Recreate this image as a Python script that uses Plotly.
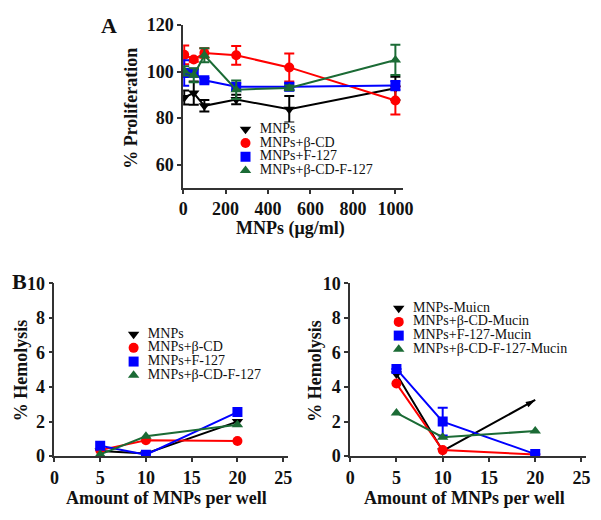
import plotly.graph_objects as go

W, H = 601, 520
FONT = "Liberation Serif"

# ---------------- data ----------------
conc_A = [5, 50, 100, 250, 500, 1000]
names_A = ["MNPs", "MNPs+β-CD", "MNPs+F-127", "MNPs+β-CD-F-127"]
prolif = {
    "MNPs": [88.9, 90.8, 85.3, 88.0, 83.8, 92.8],
    "MNPs+β-CD": [107.2, 105.2, 108.0, 107.0, 101.8, 87.6],
    "MNPs+F-127": [99.4, 99.5, 96.3, 93.5, 93.5, 94.0],
    "MNPs+β-CD-F-127": [100.3, 98.4, 107.0, 92.2, 93.0, 105.0],
}
prolif_err = {
    "MNPs": [3.0, 5.0, 2.5, 2.0, 5.7, 5.0],
    "MNPs+β-CD": [4.0, 1.0, 2.0, 4.0, 6.0, 6.0],
    "MNPs+F-127": [5.5, 1.5, 1.0, 1.5, 1.5, 2.0],
    "MNPs+β-CD-F-127": [2.0, 3.0, 3.0, 4.0, 1.0, 6.5],
}
ticks_A_x = [0, 200, 400, 600, 800, 1000]
ticks_A_y = [60, 80, 100, 120]

amount_B = [5, 10, 20]
names_B1 = ["MNPs", "MNPs+β-CD", "MNPs+F-127", "MNPs+β-CD-F-127"]
hemo_B1 = {
    "MNPs": [0.30, 0.15, 2.0],
    "MNPs+β-CD": [0.35, 0.92, 0.88],
    "MNPs+F-127": [0.60, 0.08, 2.55],
    "MNPs+β-CD-F-127": [0.10, 1.15, 1.82],
}
names_B2 = ["MNPs-Muicn", "MNPs+β-CD-Mucin", "MNPs+F-127-Mucin", "MNPs+β-CD-F-127-Mucin"]
hemo_B2 = {
    "MNPs-Muicn": [4.75, 0.30, 3.25],
    "MNPs+β-CD-Mucin": [4.20, 0.35, 0.10],
    "MNPs+F-127-Mucin": [5.05, 2.00, 0.12],
    "MNPs+β-CD-F-127-Mucin": [2.50, 1.10, 1.45],
}
hemo_B2_err = {
    "MNPs-Muicn": [0, 0, 0],
    "MNPs+β-CD-Mucin": [0, 0, 0],
    "MNPs+F-127-Mucin": [0, 0.8, 0],
    "MNPs+β-CD-F-127-Mucin": [0, 0, 0],
}
ticks_B_x = [0, 5, 10, 15, 20, 25]
ticks_B_y = [0, 2, 4, 6, 8, 10]

colors = ["#000000", "#ff0000", "#0000ff", "#1b6b35"]
symbols = ["triangle-down", "circle", "square", "triangle-up"]

# ---------------- helpers ----------------
def px_x(p):
    return p / W

def px_y(p):
    return 1 - p / H

def bold(vals):
    return ["<b>%s</b>" % v for v in vals]

fig = go.Figure()

# Panel A
for i, n in enumerate(names_A):
    fig.add_trace(go.Scatter(
        x=conc_A, y=prolif[n], mode="lines+markers", showlegend=False,
        line=dict(color=colors[i], width=2),
        marker=dict(symbol=symbols[i], size=10, color=colors[i]),
        error_y=dict(type="data", array=prolif_err[n], color=colors[i], thickness=2, width=5),
        xaxis="x", yaxis="y"))

# Panel B left
for i, n in enumerate(names_B1):
    fig.add_trace(go.Scatter(
        x=amount_B, y=hemo_B1[n], mode="lines+markers", showlegend=False,
        line=dict(color=colors[i], width=2),
        marker=dict(symbol=symbols[i], size=10, color=colors[i]),
        xaxis="x2", yaxis="y2"))

# Panel B right
for i, n in enumerate(names_B2):
    sym = symbols[i]
    ang = 0
    if i == 0:
        sym = ["triangle-down", "triangle-down", "arrow"]
        ang = [0, 0, 61]
    err = hemo_B2_err[n]
    fig.add_trace(go.Scatter(
        x=amount_B, y=hemo_B2[n], mode="lines+markers", showlegend=False,
        line=dict(color=colors[i], width=2),
        marker=dict(symbol=sym, angle=ang, size=10, color=colors[i]),
        error_y=dict(type="data", array=err, color=colors[i], thickness=2, width=5,
                     visible=any(e > 0 for e in err)),
        xaxis="x3", yaxis="y3"))

# Mini-legend axes (markers + labels)
legends = [
    (names_A, "x4", "y4", (240, 380), (117, 174)),
    (names_B1, "x5", "y5", (124, 290), (330, 387)),
    (names_B2, "x6", "y6", (394, 600), (303, 360)),
]
for names, xa, ya, xr, yr in legends:
    for i, n in enumerate(names):
        fig.add_trace(go.Scatter(
            x=[0], y=[n], mode="markers+text", text=["  " + n],
            textposition="middle right", showlegend=False, hoverinfo="skip",
            textfont=dict(family=FONT, size=14, color="#111"),
            marker=dict(symbol=symbols[i], size=10, color=colors[i]),
            xaxis=xa, yaxis=ya, cliponaxis=False))

axis_common = dict(showline=True, linecolor="#333", linewidth=1.5, ticks="outside",
                   ticklen=4, tickwidth=1.5, tickcolor="#333", showgrid=False, zeroline=False,
                   tickfont=dict(family=FONT, size=18, color="#111"))

hidden = dict(visible=False, showgrid=False, zeroline=False)

fig.update_layout(
    width=W, height=H, margin=dict(l=0, r=0, t=0, b=0), autosize=False,
    paper_bgcolor="white", plot_bgcolor="white",
    xaxis=dict(domain=[px_x(182.7), px_x(408)], range=[0, 1035],
               tickvals=ticks_A_x, ticktext=bold(ticks_A_x), anchor="y", **axis_common),
    yaxis=dict(domain=[px_y(185), px_y(15.7)], range=[50, 120],
               tickvals=ticks_A_y, ticktext=bold(ticks_A_y), anchor="x", **axis_common),
    xaxis2=dict(domain=[px_x(50.7), px_x(290)], range=[0, 25.5],
                tickvals=ticks_B_x, ticktext=bold(ticks_B_x), anchor="y2", **axis_common),
    yaxis2=dict(domain=[px_y(464), px_y(284.3)], range=[0, 10],
                tickvals=ticks_B_y, ticktext=bold(ticks_B_y), anchor="x2", **axis_common),
    xaxis3=dict(domain=[px_x(354), px_x(596)], range=[0, 25.5],
                tickvals=ticks_B_x, ticktext=bold(ticks_B_x), anchor="y3", **axis_common),
    yaxis3=dict(domain=[px_y(464), px_y(284.3)], range=[0, 10],
                tickvals=ticks_B_y, ticktext=bold(ticks_B_y), anchor="x3", **axis_common),
)
for names, xa, ya, xr, yr in legends:
    xk = "xaxis" + xa[1:]
    yk = "yaxis" + ya[1:]
    fig.layout[xk] = dict(domain=[px_x(xr[0]), px_x(xr[1])], range=[-0.5, 10],
                          anchor=ya, **hidden)
    fig.layout[yk] = dict(domain=[px_y(yr[1]), px_y(yr[0])], range=[len(names) - 0.5, -0.5],
                          type="category", categoryorder="array", categoryarray=names,
                          anchor=xa, **hidden)

title_font = dict(family=FONT, size=18, color="#111")
label_font = dict(family=FONT, size=22, color="#111")
annots = [
    dict(text="<b>A</b>", x=px_x(107), y=px_y(16), font=label_font),
    dict(text="<b>B</b>", x=px_x(15), y=px_y(282), font=label_font),
    dict(text="<b>% Proliferation</b>", x=px_x(129), y=px_y(102), textangle=-90, font=title_font),
    dict(text="<b>MNPs (μg/ml)</b>", x=px_x(293), y=px_y(227), font=title_font),
    dict(text="<b>% Hemolysis</b>", x=px_x(16), y=px_y(375), textangle=-90, font=title_font),
    dict(text="<b>% Hemolysis</b>", x=px_x(318), y=px_y(375), textangle=-90, font=title_font),
    dict(text="<b>Amount of MNPs per well</b>", x=px_x(166), y=px_y(507), font=title_font),
    dict(text="<b>Amount of MNPs per well</b>", x=px_x(471), y=px_y(507), font=title_font),
]
for a in annots:
    fig.add_annotation(xref="paper", yref="paper", showarrow=False,
                       xanchor="center", yanchor="middle", **a)

fig.write_html("out.html", config={"displayModeBar": False},
               post_script="document.body.style.margin='0';document.body.style.overflow='hidden';")
